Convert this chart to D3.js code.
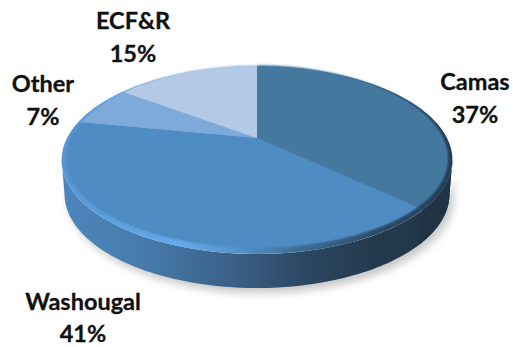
<!DOCTYPE html>
<html><head><meta charset="utf-8">
<script src="https://cdn.jsdelivr.net/npm/d3@7"></script>
<style>html,body{margin:0;padding:0;background:#fff}svg{display:block}</style>
</head><body><svg id="c" width="513" height="347"></svg>
<script>
const categories = ["Camas","Washougal","Other","ECF&R"];
const shares = [37,41,7,15];
const topColors = ["#44789f","#4f8cc4","#7eaad9","#b4c9e5"];
const labelLines = [["Camas","37%"],["Washougal","41%"],["Other","7%"],["ECF&R","15%"]];
const labelAnchors = [[475,90],[83,310],[43,92],[133,29]];

const svg = d3.select("#c");
const cx=257, cy=138, k=190, persp=0.234, slope=-56.6, depth=34;
const project=(u,v)=>{const d=1+persp*v;return [cx+k*u/d,(cy+slope*v)/d];};
const outer=t=>project(Math.sin(t),Math.cos(t));
const inner=t=>{const r=0.976+0.024*Math.cos(t);return project(0.976*Math.sin(t),r*Math.cos(t));};
const arcs=d3.pie().sort(null).value(d=>d)(shares);
const line=d3.line().curve(d3.curveLinear);
const samples=(a,b,f)=>d3.range(0,121).map(i=>f(a+(b-a)*i/120));

const defs=svg.append("defs");
function grad(id,stops){
  const g=defs.append("linearGradient").attr("id",id).attr("gradientUnits","userSpaceOnUse")
    .attr("x1",60).attr("x2",455).attr("y1",0).attr("y2",0);
  stops.forEach(s=>g.append("stop").attr("offset",s[0]).attr("stop-color",s[1]));
}
grad("side",[[0,"#4c86bd"],[0.2,"#477cad"],[0.45,"#395f85"],[0.62,"#2b4762"],[0.8,"#24394e"],[1,"#203446"]]);
grad("rim",[[0,"#5896d2"],[0.1,"#5b9cdc"],[0.3,"#66abee"],[0.45,"#5592ca"],[0.6,"#3f6f9a"],[0.8,"#2b4c69"],[1,"#223c54"]]);
defs.append("filter").attr("id","soft").attr("x","-20%").attr("y","-20%").attr("width","140%").attr("height","140%")
  .append("feGaussianBlur").attr("stdDeviation",4);
defs.append("filter").attr("id","fine").attr("x","-5%").attr("y","-5%").attr("width","110%").attr("height","110%")
  .append("feGaussianBlur").attr("stdDeviation",0.5);
defs.append("filter").attr("id","bevel").attr("x","-5%").attr("y","-5%").attr("width","110%").attr("height","110%")
  .append("feGaussianBlur").attr("stdDeviation",1.1);

const widest=Math.acos(-persp);
const lower=samples(widest,2*Math.PI-widest,outer);
const lowerDrop=lower.map(p=>[cx+(p[0]-cx)*0.985,p[1]+depth]);
const wall=lower.concat(lowerDrop.slice().reverse());

// shadow under the disc
svg.append("path").attr("d",line(wall)+"Z").attr("fill","#8f8f8f").attr("opacity",0.5)
  .attr("transform","translate(4,5)").attr("filter","url(#soft)");
// side wall
svg.append("path").attr("d",line(wall)+"Z").attr("fill","url(#side)");
// Camas part of the wall
const camasEnd=arcs[0].endAngle;
const camasLow=samples(widest,camasEnd,outer);
const camasWall=camasLow.concat(camasLow.map(p=>[cx+(p[0]-cx)*0.985,p[1]+depth]).reverse());
svg.append("path").attr("d",line(camasWall)+"Z").attr("fill","#1f3345");
// bevelled rim
svg.append("path").attr("d",line(samples(0,2*Math.PI,outer))+"Z").attr("fill","url(#rim)").attr("filter","url(#fine)");
// top surface: a soft underlay gives the bevel its fade, the slices sit on it
const under=svg.append("g").attr("filter","url(#bevel)");
const surface=svg.append("g").attr("filter","url(#fine)");
arcs.forEach((a,i)=>{
  const pts=[project(0,0)].concat(samples(a.startAngle,a.endAngle,inner));
  under.append("path").attr("d",line(pts)+"Z").attr("fill",topColors[i]).attr("stroke",topColors[i]).attr("stroke-width",1.5);
  const ptsIn=[project(0,0)].concat(samples(a.startAngle,a.endAngle,t=>{const p=inner(t);return [cx+(p[0]-cx)*0.998,cy+(p[1]-cy)*0.998];}));
  surface.append("path").attr("d",line(ptsIn)+"Z").attr("fill",topColors[i]);
});
// labels
labelLines.forEach((ls,i)=>{
  const t=svg.append("text").attr("text-anchor","middle").attr("font-family","Lato, Carlito, sans-serif")
    .attr("font-weight",700).attr("font-size",23.5).attr("fill","#111").attr("stroke","#111").attr("stroke-width",0.3);
  ls.forEach((s,j)=>t.append("tspan").attr("x",labelAnchors[i][0]).attr("y",labelAnchors[i][1]+j*(i===1?31.5:32.5)).text(s));
});
</script></body></html>
